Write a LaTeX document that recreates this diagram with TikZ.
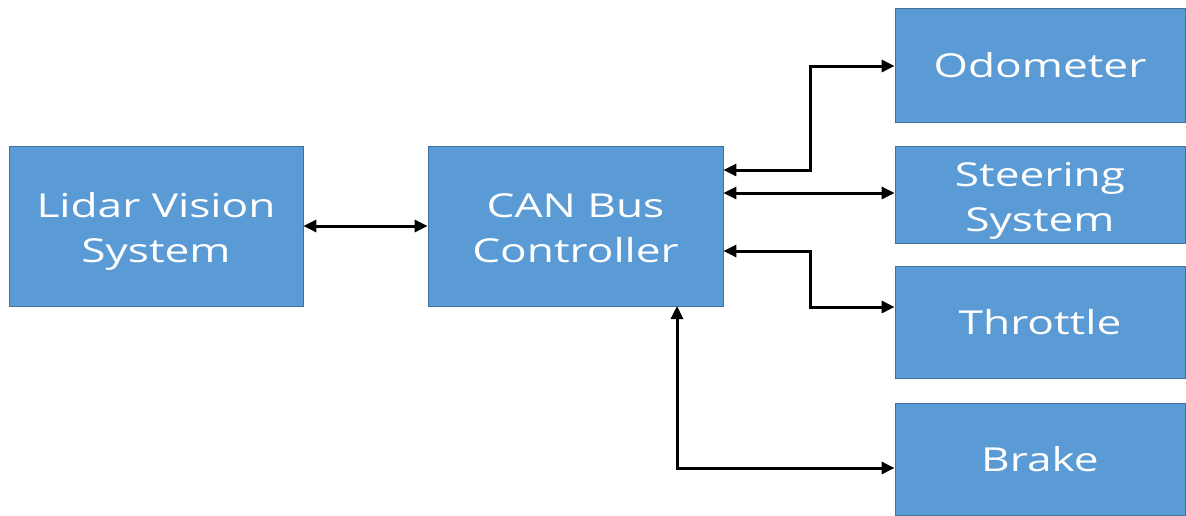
\documentclass[tikz,border=0pt]{standalone}
\usepackage{fontspec}
\setmainfont{Open Sans}
\newfontfamily\boxfont[FakeStretch=1.34]{Open Sans}
\usetikzlibrary{arrows.meta}
\definecolor{boxfill}{HTML}{5B9BD5}
\definecolor{boxline}{HTML}{41719C}
% two centred lines, set a little lower in the box
\newcommand{\twolines}[2]{\raisebox{-5pt}[\height][\depth]{\begin{tabular}{@{}c@{}}#1\\#2\end{tabular}}}
\tikzset{
  unit/.style={draw=boxline, line width=0.8pt, fill=boxfill, text=white,
    font=\boxfont\fontsize{33}{45}\selectfont, align=center, inner sep=0pt},
  link/.style={line width=3pt, {Triangle[length=13pt,width=12pt]}-{Triangle[length=13pt,width=12pt]}}
}
\begin{document}
\begin{tikzpicture}[x=1pt,y=-1pt]
\useasboundingbox (0,0) rectangle (1186,515);
% blocks
\node[unit, minimum width=294pt, minimum height=160pt] (lidar) at (156,226) {\twolines{Lidar Vision}{System}};
\node[unit, minimum width=295pt, minimum height=160pt] (can) at (575.5,226) {\twolines{CAN Bus}{Controller}};
\node[unit, minimum width=290pt, minimum height=114pt] (odo) at (1040,65) {Odometer};
\node[unit, minimum width=290pt, minimum height=97pt] (steer) at (1040,194.5) {\twolines{Steering}{System}};
\node[unit, minimum width=290pt, minimum height=112pt] (thr) at (1040,322) {Throttle};
\node[unit, minimum width=290pt, minimum height=112pt] (brake) at (1040,459) {Brake};
% connections
\coordinate (cOdo) at (can.east |- 0,170);
\coordinate (cThr) at (can.east |- 0,251);
\coordinate (cBrk) at (677,306);
\draw[link] (lidar.east) -- (can.west);
\draw[link] (cOdo) -| (810,66) -- (odo.west |- 0,66);
\draw[link] (can.east |- 0,193) -- (steer.west |- 0,193);
\draw[link] (cThr) -| (810,307) -- (thr.west |- 0,307);
\draw[link] (cBrk) |- (brake.west |- 0,468);
\end{tikzpicture}
\end{document}
